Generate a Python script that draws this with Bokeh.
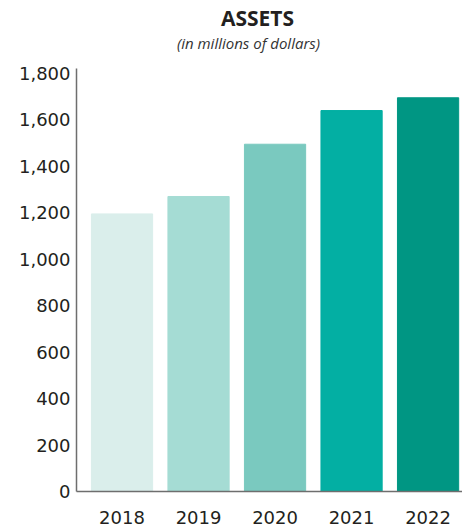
from bokeh.plotting import figure
from bokeh.models import Range1d, FixedTicker, Label, ColumnDataSource, NumeralTickFormatter
from bokeh.embed import file_html
from bokeh.resources import INLINE

years = ["2018", "2019", "2020", "2021", "2022"]
assets = [1195, 1270, 1495, 1640, 1695]
colors = ["#DAEEEB", "#A5DCD4", "#7AC9BF", "#03AFA3", "#009683"]
y_ticks = [0, 200, 400, 600, 800, 1000, 1200, 1400, 1600, 1800]
title = "ASSETS"
subtitle = "(in millions of dollars)"

xpos = list(range(len(years)))
src = ColumnDataSource(dict(x=xpos, top=assets, color=colors))

# frame spans the full height; the axis line is bounded to the data area
X0, X1 = -0.595, 4.45
AX_TOP = 1821            # top of the visible y axis
UPP = AX_TOP / 423.0     # data units per pixel
Y1 = 491 * UPP
XPP = (X1 - X0) / 386.0

p = figure(width=462, height=532, output_backend="svg", toolbar_location=None,
           x_range=Range1d(X0, X1), y_range=Range1d(0, Y1),
           min_border_left=76, min_border_right=0, min_border_bottom=41, min_border_top=0)
p.vbar(x="x", top="top", width=0.8, color="color", source=src)

p.add_layout(Label(x=X0 + 181 * XPP, y=Y1 - 17 * UPP, text=title, text_align="center",
                   text_baseline="middle", text_font="Open Sans", text_font_style="bold",
                   text_font_size="21px", text_color="#231F20"))
p.add_layout(Label(x=X0 + 172 * XPP, y=Y1 - 42 * UPP, text=subtitle, text_align="center",
                   text_baseline="middle", text_font="Open Sans", text_font_style="italic",
                   text_font_size="15px", text_color="#333333"))

p.xgrid.visible = False
p.ygrid.visible = False
p.outline_line_color = None

p.xaxis.ticker = FixedTicker(ticks=xpos)
p.xaxis.major_label_overrides = {i: y for i, y in enumerate(years)}
p.yaxis.ticker = FixedTicker(ticks=y_ticks)
p.yaxis.formatter = NumeralTickFormatter(format="0,0")
p.yaxis.bounds = (0, AX_TOP)

for ax in (p.xaxis[0], p.yaxis[0]):
    ax.major_tick_line_color = None
    ax.minor_tick_line_color = None
    ax.major_tick_out = 0
    ax.major_tick_in = 0
    ax.major_label_text_font = "DejaVu Sans"
    ax.major_label_text_font_size = "18px"
    ax.major_label_text_color = "#231F20"
    ax.axis_line_color = "#6E6E6E"
    ax.axis_line_width = 1.5
p.xaxis.major_label_standoff = 19
p.yaxis.major_label_standoff = 6

open("out.html", "w").write(file_html(p, INLINE))
